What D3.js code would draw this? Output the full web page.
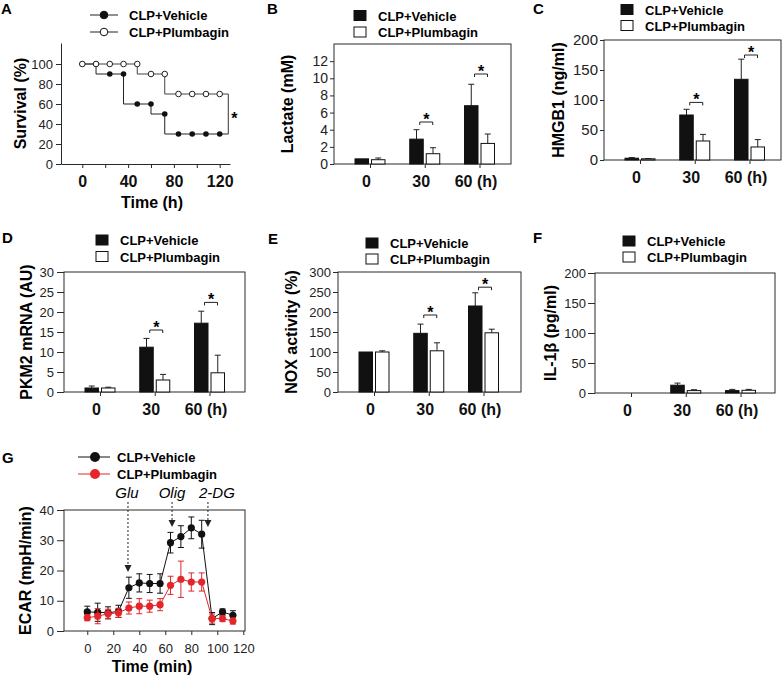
<!DOCTYPE html>
<html><head><meta charset="utf-8">
<script src="https://cdn.jsdelivr.net/npm/d3@7"></script>
<style>body{margin:0;background:#fff} svg text{font-family:Arial,"Liberation Sans",sans-serif}</style>
</head><body><svg id="c" width="783" height="677"></svg>
<script>
// ---------- DATA ----------
// Panel A: survival
const survTimes = [0,12,24,36,48,60,72,84,96,108,120];
const survVehicle = [100,100,90,90,60,60,50,30,30,30,30];
const survPlumbagin = [100,100,100,100,100,90,90,70,70,70,70];
const survEnd = 127.5;
const survTicksY = [0,20,40,60,80,100];
const survTicksX = [0,20,40,60,80,100,120];
const survLabelsX = [0,40,80,120];

// Bar panels
const barCats = ["0","30","60 (h)"];
const seriesNames = ["CLP+Vehicle","CLP+Plumbagin"];

const lactateVeh = [0.6, 2.9, 6.8];
const lactateVehSD = [0, 1.1, 2.5];
const lactatePlu = [0.5, 1.2, 2.4];
const lactatePluSD = [0.2, 0.7, 1.1];
const lactateSig = [null, 4.9, 10.5];
const lactateTicks = [0,2,4,6,8,10,12];

const hmgbVeh = [3, 75, 134.5];
const hmgbVehSD = [1, 9.5, 33.5];
const hmgbPlu = [2, 31.7, 21.7];
const hmgbPluSD = [0.5, 11, 12.3];
const hmgbSig = [null, 96, 175];
const hmgbTicks = [0,50,100,150,200];

const pkmVeh = [1.0, 11.2, 17.2];
const pkmVehSD = [0.5, 2.2, 3.0];
const pkmPlu = [1.0, 3.0, 4.8];
const pkmPluSD = [0.2, 1.4, 4.4];
const pkmSig = [null, 15.5, 22.4];
const pkmTicks = [0,5,10,15,20,25,30];

const noxVeh = [100, 146.7, 215];
const noxVehSD = [0, 23, 33];
const noxPlu = [100, 103, 148];
const noxPluSD = [3, 20, 9];
const noxSig = [null, 192.5, 262];
const noxTicks = [0,50,100,150,200,250,300];

const ilVeh = [0, 13, 4];
const ilVehSD = [0, 3.5, 2];
const ilPlu = [0, 4, 4.5];
const ilPluSD = [0, 1.5, 1.5];
const ilSig = [null, null, null];
const ilTicks = [0,50,100,150,200];

// Panel G: ECAR
const ecarTimes = [0,8,16,24,32,40,48,56,64,72,80,88,96,104,112];
const ecarVeh = [6.3,6.2,6.0,6.5,14.3,15.9,15.7,15.7,29.2,31.2,34.1,32.0,4.1,6.3,5.2];
const ecarVehSD = [1.9,3.0,2.0,2.0,3.5,3.0,3.0,3.2,3.4,3.6,3.6,4.6,2.0,1.0,1.5];
const ecarPlu = [4.4,4.9,5.7,6.0,7.6,8.2,8.2,8.7,15.1,17.1,16.2,16.2,4.1,4.1,3.3];
const ecarPluSD = [1.0,2.5,1.5,1.5,2.0,2.5,2.0,2.0,3.0,6.0,3.0,3.0,1.5,1.0,1.0];
const ecarTicksY = [0,10,20,30,40];
const ecarTicksX = [0,20,40,60,80,100,120];
const injNames = ["Glu","Olig","2-DG"];
const injTimes = [31.3, 65.2, 92.8];
const injTips = [19.5, 34.4, 34.4];

// ---------- DRAWING ----------
const svg = d3.select("#c");
const FONT = 'Arial, "Liberation Sans", sans-serif';
const AX = "#2a2a2a";
const RED = "#e4252c";

function letter(t, x, y) {
  svg.append("text").attr("x", x).attr("y", y).attr("font-size", 15).attr("font-weight", "bold").text(t);
}
function yTitle(t, x, y) {
  svg.append("text").attr("transform", `translate(${x},${y}) rotate(-90)`)
    .attr("text-anchor", "middle").attr("dy", "0.35em")
    .attr("font-size", 16).attr("font-weight", "bold").text(t);
}
function yAxis(y, left, ticks, tickLen, fs, pad) {
  const g = svg.append("g").attr("transform", `translate(${left},0)`)
    .call(d3.axisLeft(y).tickValues(ticks).tickSize(tickLen).tickPadding(pad).tickSizeOuter(0));
  g.attr("font-family", FONT);
  g.select(".domain").remove();
  g.selectAll(".tick line").attr("stroke", AX);
  g.selectAll(".tick text").attr("font-size", fs).attr("fill", "#222");
  return g;
}
function frame(l, t, r, b) {
  svg.append("rect").attr("x", l).attr("y", t).attr("width", r - l).attr("height", b - t)
    .attr("fill", "none").attr("stroke", AX).attr("stroke-width", 1);
}
function squareLegend(x, tx, b1, b2) {
  [[b1, "#111", seriesNames[0]], [b2, "#fff", seriesNames[1]]].forEach(([b, f, name]) => {
    svg.append("rect").attr("x", x).attr("y", b - 10).attr("width", 12).attr("height", 10)
      .attr("fill", f).attr("stroke", "#111").attr("stroke-width", 1);
    svg.append("text").attr("x", tx).attr("y", b).attr("font-size", 13).attr("font-weight", "bold").text(name);
  });
}

function barPanel(o) {
  const y = d3.scaleLinear().domain([0, o.ymax]).range([o.bottom, o.top]);
  const x = d3.scalePoint().domain(barCats).range([o.left + 36, o.left + 145.5]);
  const bw = 13.5, gap = 1.5;
  frame(o.left, o.top, o.right, o.bottom);
  const series = [
    {v: o.veh, sd: o.vehSD, fill: "#111", off: -(gap + bw)},
    {v: o.plu, sd: o.pluSD, fill: "#fff", off: gap}
  ];
  series.forEach(s => {
    barCats.forEach((c, i) => {
      const v = s.v[i];
      if (v <= 0) return;
      const x0 = x(c) + s.off, xm = x0 + bw / 2;
      if (s.sd[i] > 0) {
        const yt = y(v + s.sd[i]);
        svg.append("line").attr("x1", xm).attr("x2", xm).attr("y1", y(v)).attr("y2", yt).attr("stroke", "#222");
        svg.append("line").attr("x1", xm - 3).attr("x2", xm + 3).attr("y1", yt).attr("y2", yt).attr("stroke", "#222");
      }
      svg.append("rect").attr("x", x0).attr("y", y(v)).attr("width", bw).attr("height", o.bottom - y(v))
        .attr("fill", s.fill).attr("stroke", "#111").attr("stroke-width", 1);
    });
  });
  o.sig.forEach((s, i) => {
    if (s == null) return;
    const c = x(barCats[i]), by = y(s), x1 = c - 5, x2 = c + 8;
    svg.append("path").attr("d", `M${x1},${by + 3}V${by}H${x2}V${by + 3}`).attr("fill", "none").attr("stroke", "#222");
    svg.append("text").attr("x", (x1 + x2) / 2).attr("y", by + 3).attr("text-anchor", "middle")
      .attr("font-size", 16).attr("font-weight", "bold").text("*");
  });
  yAxis(y, o.left, o.ticks, o.tickLen, o.tickFs, o.pad);
  const gx = svg.append("g").attr("transform", `translate(0,${o.bottom})`)
    .call(d3.axisBottom(x).tickSize(4).tickSizeOuter(0));
  gx.attr("font-family", FONT);
  gx.select(".domain").remove();
  gx.selectAll(".tick line").attr("stroke", AX);
  gx.selectAll(".tick text").attr("font-size", 16).attr("font-weight", "bold").attr("fill", "#111")
    .attr("y", 23).attr("dy", 0).attr("x", -4);
  letter(o.letter, o.lx, o.ly);
  yTitle(o.title, o.tx, (o.top + o.bottom) / 2);
  squareLegend(o.sqx, o.sqx + 24, o.lb1, o.lb2);
}

// ----- Panel A -----
(function() {
  const x = d3.scaleLinear().domain([-18.6, 129]).range([61, 230]);
  const y = d3.scaleLinear().domain([0, 121]).range([164, 43]);
  const gy = svg.append("g").attr("transform", "translate(61,0)")
    .call(d3.axisLeft(y).tickValues(survTicksY).tickSize(5).tickPadding(3).tickSizeOuter(0));
  gy.attr("font-family", FONT);
  gy.selectAll("path,line").attr("stroke", AX);
  gy.selectAll(".tick text").attr("font-size", 13).attr("fill", "#222");
  const gx = svg.append("g").attr("transform", "translate(0,164)")
    .call(d3.axisBottom(x).tickValues(survTicksX).tickSize(4).tickSizeOuter(0)
      .tickFormat(d => survLabelsX.includes(d) ? d : ""));
  gx.attr("font-family", FONT);
  gx.selectAll("path,line").attr("stroke", AX);
  gx.selectAll(".tick text").attr("font-size", 16).attr("font-weight", "bold").attr("fill", "#111")
    .attr("y", 23).attr("dy", 0);
  const line = d3.line().x(d => x(d[0])).y(d => y(d[1])).curve(d3.curveStepBefore);
  const vPts = survTimes.map((t, i) => [t, survVehicle[i]]);
  const pPts = survTimes.map((t, i) => [t, survPlumbagin[i]]);
  const vLast = survVehicle[survVehicle.length - 1], pLast = survPlumbagin[survPlumbagin.length - 1];
  svg.append("path").attr("d", line(vPts.concat([[survEnd, vLast]]))).attr("fill", "none").attr("stroke", "#222");
  svg.append("path").attr("d", line(pPts.concat([[survEnd, pLast]]))).attr("fill", "none").attr("stroke", "#444");
  svg.append("line").attr("x1", x(survEnd)).attr("x2", x(survEnd)).attr("y1", y(pLast)).attr("y2", y(vLast)).attr("stroke", "#333");
  svg.append("text").attr("x", x(survEnd) + 6).attr("y", y((pLast + vLast) / 2) + 10).attr("text-anchor", "middle")
    .attr("font-size", 16).attr("font-weight", "bold").text("*");
  svg.selectAll(".va").data(vPts).enter().append("circle").attr("cx", d => x(d[0])).attr("cy", d => y(d[1]))
    .attr("r", 2.8).attr("fill", "#111");
  svg.selectAll(".pa").data(pPts).enter().append("circle").attr("cx", d => x(d[0])).attr("cy", d => y(d[1]))
    .attr("r", 2.8).attr("fill", "#fff").attr("stroke", "#222");
  // legend
  [[15, "#111"], [32, "#fff"]].forEach(([ly, f], i) => {
    svg.append("line").attr("x1", 90).attr("x2", 118).attr("y1", ly).attr("y2", ly).attr("stroke", "#222");
    svg.append("circle").attr("cx", 104).attr("cy", ly).attr("r", 3.8).attr("fill", f).attr("stroke", "#111");
    svg.append("text").attr("x", 129).attr("y", ly + 5).attr("font-size", 13).attr("font-weight", "bold").text(seriesNames[i]);
  });
  letter("A", 1, 14);
  yTitle("Survival (%)", 20, 103.5);
  svg.append("text").attr("x", 152).attr("y", 208).attr("text-anchor", "middle")
    .attr("font-size", 16).attr("font-weight", "bold").text("Time (h)");
})();

// ----- Bar panels -----
barPanel({left: 334, right: 511, top: 44, bottom: 164, ymax: 14, veh: lactateVeh, vehSD: lactateVehSD,
  plu: lactatePlu, pluSD: lactatePluSD, sig: lactateSig, ticks: lactateTicks, tickLen: 4, tickFs: 14, pad: 2,
  letter: "B", lx: 267, ly: 14, title: "Lactate (mM)", tx: 287, sqx: 354, lb1: 20.5, lb2: 37});
barPanel({left: 604, right: 781, top: 40, bottom: 160, ymax: 200, veh: hmgbVeh, vehSD: hmgbVehSD,
  plu: hmgbPlu, pluSD: hmgbPluSD, sig: hmgbSig, ticks: hmgbTicks, tickLen: 4, tickFs: 15, pad: 2,
  letter: "C", lx: 533, ly: 14, title: "HMGB1 (ng/ml)", tx: 558, sqx: 621, lb1: 14.5, lb2: 30.5});
barPanel({left: 64, right: 245, top: 272, bottom: 392, ymax: 30, veh: pkmVeh, vehSD: pkmVehSD,
  plu: pkmPlu, pluSD: pkmPluSD, sig: pkmSig, ticks: pkmTicks, tickLen: 7, tickFs: 13, pad: 3,
  letter: "D", lx: 2, ly: 243, title: "PKM2 mRNA (AU)", tx: 26, sqx: 96, lb1: 245, lb2: 261.5});
barPanel({left: 338, right: 521, top: 272, bottom: 392, ymax: 300, veh: noxVeh, vehSD: noxVehSD,
  plu: noxPlu, pluSD: noxPluSD, sig: noxSig, ticks: noxTicks, tickLen: 5, tickFs: 13, pad: 2,
  letter: "E", lx: 268, ly: 244, title: "NOX activity (%)", tx: 291, sqx: 366, lb1: 248, lb2: 264});
barPanel({left: 595, right: 775, top: 273, bottom: 393, ymax: 200, veh: ilVeh, vehSD: ilVehSD,
  plu: ilPlu, pluSD: ilPluSD, sig: ilSig, ticks: ilTicks, tickLen: 7, tickFs: 13, pad: 2,
  letter: "F", lx: 533, ly: 243, title: "IL-1β (pg/ml)", tx: 550, sqx: 623, lb1: 246, lb2: 262});

// ----- Panel G -----
(function() {
  const x = d3.scaleLinear().domain([-17.9, 121.3]).range([64, 245]);
  const y = d3.scaleLinear().domain([0, 40]).range([631, 510]);
  frame(64, 510, 245, 631);
  yAxis(y, 64, ecarTicksY, 7, 13, 3);
  const gx = svg.append("g").attr("transform", "translate(0,631)")
    .call(d3.axisBottom(x).tickValues(ecarTicksX).tickSize(4).tickSizeOuter(0));
  gx.attr("font-family", FONT);
  gx.select(".domain").remove();
  gx.selectAll(".tick line").attr("stroke", AX);
  gx.selectAll(".tick text").attr("font-size", 13).attr("fill", "#222").attr("y", 22).attr("dy", 0);
  const line = d3.line().x(d => x(d[0])).y(d => y(d[1]));
  const sets = [
    {v: ecarVeh, sd: ecarVehSD, c: "#111"},
    {v: ecarPlu, sd: ecarPluSD, c: RED}
  ];
  sets.forEach(s => {
    const pts = ecarTimes.map((t, i) => [t, s.v[i], s.sd[i]]);
    const g = svg.append("g");
    pts.forEach(p => {
      const xx = x(p[0]), y1 = y(p[1] + p[2]), y2 = y(p[1] - p[2]);
      g.append("line").attr("x1", xx).attr("x2", xx).attr("y1", y1).attr("y2", y2).attr("stroke", s.c);
      g.append("line").attr("x1", xx - 3).attr("x2", xx + 3).attr("y1", y1).attr("y2", y1).attr("stroke", s.c);
      g.append("line").attr("x1", xx - 3).attr("x2", xx + 3).attr("y1", y2).attr("y2", y2).attr("stroke", s.c);
    });
    g.append("path").attr("d", line(pts)).attr("fill", "none").attr("stroke", s.c).attr("stroke-width", 1);
    g.selectAll("circle").data(pts).enter().append("circle")
      .attr("cx", d => x(d[0])).attr("cy", d => y(d[1])).attr("r", 3.6).attr("fill", s.c);
  });
  // injections
  const labelOff = [-1, 0, 9];
  injNames.forEach((n, i) => {
    const xx = x(injTimes[i]), yt = y(injTips[i]);
    svg.append("line").attr("x1", xx).attr("x2", xx).attr("y1", 502).attr("y2", yt - 6)
      .attr("stroke", "#222").attr("stroke-dasharray", "2,2");
    svg.append("path").attr("d", `M${xx - 3.5},${yt - 7}L${xx},${yt}L${xx + 3.5},${yt - 7}Z`).attr("fill", "#222");
    svg.append("text").attr("x", xx + labelOff[i]).attr("y", 498).attr("text-anchor", "middle")
      .attr("font-size", 15).attr("font-style", "italic").text(n);
  });
  // legend
  [[457, "#111"], [474, RED]].forEach(([ly, c], i) => {
    svg.append("line").attr("x1", 78).attr("x2", 110).attr("y1", ly).attr("y2", ly).attr("stroke", c);
    svg.append("circle").attr("cx", 95).attr("cy", ly).attr("r", 5).attr("fill", c);
    svg.append("text").attr("x", 117).attr("y", ly + 5).attr("font-size", 13).attr("font-weight", "bold").text(seriesNames[i]);
  });
  letter("G", 2, 463);
  yTitle("ECAR (mpH/min)", 25, 570.5);
  svg.append("text").attr("x", 152).attr("y", 672).attr("text-anchor", "middle")
    .attr("font-size", 16).attr("font-weight", "bold").text("Time (min)");
})();
</script></body></html>
